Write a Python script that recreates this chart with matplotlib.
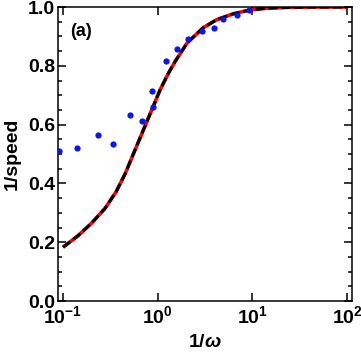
import numpy as np
import matplotlib.pyplot as plt
from matplotlib.ticker import LogLocator, MultipleLocator, NullLocator

plt.rcParams['font.family'] = ['Liberation Sans', 'DejaVu Sans']
plt.rcParams['font.weight'] = 'bold'
plt.rcParams['mathtext.fontset'] = 'custom'
plt.rcParams['mathtext.rm'] = 'Liberation Sans:bold'
plt.rcParams['mathtext.bf'] = 'Liberation Sans:bold'
plt.rcParams['mathtext.sf'] = 'Liberation Sans:bold'
plt.rcParams['mathtext.it'] = 'Liberation Sans:bold:italic'

# measured points (1/omega, 1/speed)
dots_x = [0.0907, 0.1406, 0.233, 0.338, 0.511, 0.679, 0.866, 0.902,
          1.218, 1.61, 2.08, 2.97, 3.92, 4.91, 6.90, 9.25]
dots_y = [0.510, 0.521, 0.565, 0.533, 0.633, 0.612, 0.715, 0.661,
          0.817, 0.856, 0.890, 0.919, 0.930, 0.958, 0.974, 0.989]

# theory curve
curve_x = [0.1, 0.144, 0.199, 0.276, 0.363, 0.452, 0.577, 0.707, 0.866,
           1.06, 1.30, 1.53, 1.72, 2.05, 3.04, 4.21, 6.31, 9.48, 14.2,
           25.0, 50.0, 100.0]
curve_y = [0.183, 0.222, 0.264, 0.314, 0.371, 0.432, 0.514, 0.582, 0.650,
           0.718, 0.775, 0.815, 0.840, 0.878, 0.930, 0.957, 0.977, 0.990,
           0.996, 0.999, 1.0, 1.0]

fig = plt.figure(figsize=(3.61, 3.54), dpi=100)
ax = fig.add_axes([0.1607, 0.1497, 0.8143, 0.8305])

ax.plot(curve_x, curve_y, color='red', lw=2.6, solid_capstyle='butt',
        solid_joinstyle='round', zorder=2)
ax.plot(curve_x, curve_y, color='black', lw=2.2, ls=(0, (3, 1.2)),
        dash_joinstyle='round', zorder=3)
ax.plot(dots_x, dots_y, 'o', color='#0a14f5', ms=4.5, mec='none', zorder=4)

ax.set_xscale('log')
ax.set_xlim(10 ** -1.053, 10 ** 2.053)
ax.set_ylim(0, 1.0)
ax.xaxis.set_major_locator(LogLocator(base=10, numticks=10))
ax.xaxis.set_minor_locator(NullLocator())
ax.yaxis.set_major_locator(MultipleLocator(0.2))
ax.yaxis.set_minor_locator(MultipleLocator(0.05))

ax.tick_params(which='both', direction='in', top=True, right=True, width=1.1)
ax.tick_params(which='major', length=5.5, labelsize=14, pad=2)
ax.tick_params(axis='x', which='major', pad=3)
ax.tick_params(which='minor', length=3)
for s in ax.spines.values():
    s.set_linewidth(1.1)
for lab in ax.get_xticklabels() + ax.get_yticklabels():
    lab.set_fontweight('bold')

ax.set_xlabel(r'1/$\omega$', fontsize=14, fontweight='bold', labelpad=5)
ax.set_ylabel('1/speed', fontsize=14, fontweight='bold', labelpad=5)
ax.text(0.118, 0.915, '(a)', fontsize=13, fontweight='bold', va='center')

fig.savefig('out.png', dpi=100)
